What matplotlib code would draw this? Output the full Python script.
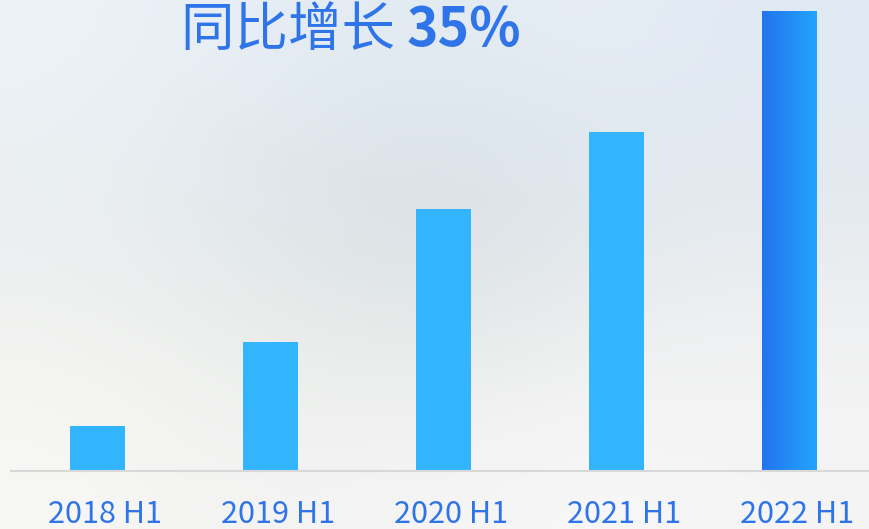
import matplotlib
matplotlib.use('Agg')
import matplotlib.pyplot as plt
import matplotlib.transforms as mtransforms
import numpy as np

# Data
categories = ['2018 H1', '2019 H1', '2020 H1', '2021 H1', '2022 H1']
values = [45, 129, 262, 339, 460]
title_cjk = '同比增长 '
title_num = '35%'

BAR_COLOR = '#33b5fe'
TEXT_COLOR = '#2f74e9'
GRAD_LEFT = np.array([0x23, 0x74, 0xee]) / 255
GRAD_RIGHT = np.array([0x22, 0xa4, 0xfe]) / 255

plt.rcParams['font.family'] = ['Noto Sans CJK SC', 'DejaVu Sans']

fig = plt.figure(figsize=(8.69, 5.29), dpi=100)

# soft gradient background
bg = fig.add_axes([0, 0, 1, 1], zorder=0)
grid = np.array([
    [[0.93, 0.95, 0.97], [0.90, 0.93, 0.96], [0.89, 0.92, 0.95], [0.90, 0.93, 0.96], [0.88, 0.91, 0.95]],
    [[0.92, 0.94, 0.95], [0.88, 0.91, 0.93], [0.85, 0.88, 0.91], [0.88, 0.91, 0.94], [0.88, 0.91, 0.94]],
    [[0.93, 0.94, 0.94], [0.89, 0.91, 0.91], [0.86, 0.88, 0.89], [0.90, 0.92, 0.93], [0.92, 0.93, 0.94]],
    [[0.96, 0.96, 0.95], [0.93, 0.94, 0.93], [0.92, 0.93, 0.92], [0.95, 0.95, 0.95], [0.95, 0.95, 0.95]],
    [[0.97, 0.97, 0.96], [0.95, 0.95, 0.95], [0.96, 0.96, 0.96], [0.97, 0.97, 0.97], [0.96, 0.96, 0.96]],
])
bg.imshow(grid, extent=[0, 1, 0, 1], aspect='auto', interpolation='bicubic')
bg.set_xlim(0, 1)
bg.set_ylim(0, 1)
bg.axis('off')

ax = fig.add_axes([11 / 869, (529 - 471) / 529, 865 / 869, 471 / 529], zorder=1)
ax.patch.set_alpha(0)
x = np.arange(len(categories))
bar_w = 55 / 173
bars = ax.bar(x[:-1], values[:-1], width=bar_w, color=BAR_COLOR, zorder=2)

# last bar with horizontal gradient
xl = x[-1] - bar_w / 2
grad = np.linspace(0, 1, 256)[None, :, None]
img = GRAD_LEFT * (1 - grad) + GRAD_RIGHT * grad
ax.imshow(img, extent=[xl, xl + bar_w, 0, values[-1]], aspect='auto', zorder=2)

ax.set_xlim(-0.5, len(categories) - 0.5)
ax.set_ylim(0, 471)
for s in ['top', 'right', 'left']:
    ax.spines[s].set_visible(False)
ax.spines['bottom'].set_color('#d8d8d8')
ax.spines['bottom'].set_linewidth(1.5)
ax.set_yticks([])
ax.set_xticks(x)
ax.set_xticklabels(categories, fontsize=22, color=TEXT_COLOR)
ax.tick_params(axis='x', length=0, pad=20)
# labels sit a little right of the bar centres in the original
shift = mtransforms.ScaledTranslation(8 / 100, 0, fig.dpi_scale_trans)
for lbl in ax.get_xticklabels():
    lbl.set_transform(lbl.get_transform() + shift)

# headline
t1 = fig.text(181 / 869, 1 - 46 / 529, title_cjk, fontsize=38.5, color=TEXT_COLOR,
              ha='left', va='baseline')
fig.canvas.draw()
bb = t1.get_window_extent()
fig.text(bb.x1 / 869, 1 - 46 / 529, title_num, fontsize=38.5, color=TEXT_COLOR,
         fontweight='bold', ha='left', va='baseline')

fig.savefig('out.png', dpi=100)
